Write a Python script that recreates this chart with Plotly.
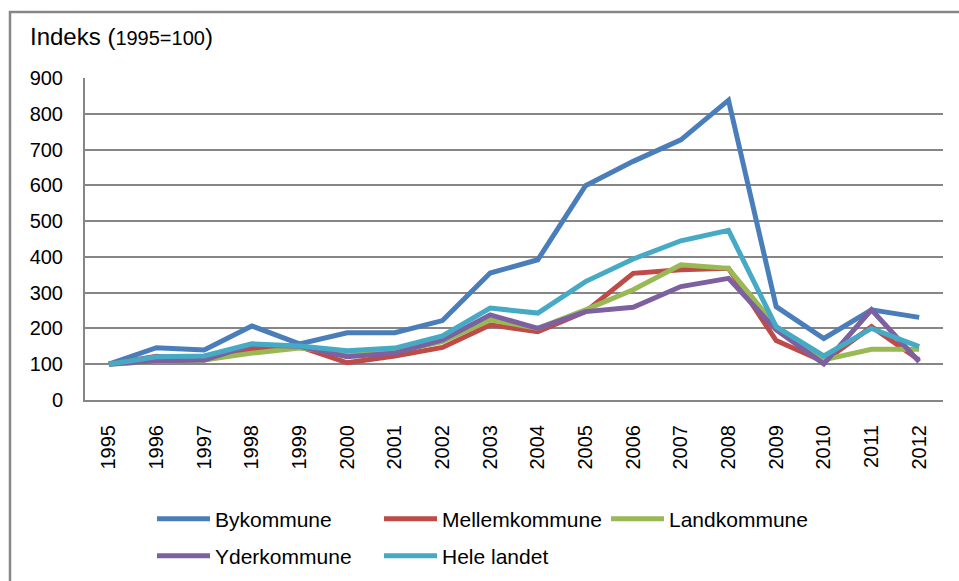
import plotly.graph_objects as go

years = [str(y) for y in range(1995, 2013)]
bykommune = [100, 146, 140, 207, 157, 188, 188, 222, 355, 392, 599, 667, 727, 838, 261, 172, 252, 231]
mellemkommune = [100, 122, 112, 142, 149, 104, 123, 147, 210, 191, 247, 354, 364, 368, 166, 107, 205, 112]
landkommune = [100, 108, 112, 131, 145, 131, 135, 163, 224, 200, 252, 308, 378, 368, 205, 112, 142, 142]
yderkommune = [100, 110, 112, 154, 150, 121, 131, 168, 238, 200, 247, 259, 317, 340, 196, 101, 252, 107]
hele_landet = [100, 121, 123, 157, 151, 138, 145, 179, 257, 243, 331, 394, 445, 474, 205, 123, 200, 149]

series_names = ["Bykommune", "Mellemkommune", "Landkommune", "Yderkommune", "Hele landet"]
series_values = [bykommune, mellemkommune, landkommune, yderkommune, hele_landet]
colors = ["#4A7EBB", "#BE4B48", "#98B954", "#7D60A0", "#46AAC5"]
legend_ids = ["legend", "legend", "legend", "legend2", "legend2"]

FONT = "Liberation Sans, Arial, sans-serif"
W, H = 959, 581
L, R, T, B = 85, 16, 78, 181

fig = go.Figure()
for name, vals, col, lg in zip(series_names, series_values, colors, legend_ids):
    fig.add_trace(go.Scatter(
        x=years, y=vals, name=name, mode="lines",
        line=dict(color=col, width=5),
        legend=lg,
    ))

plot_w = W - L - R
plot_h = H - T - B

def px_x(p):
    return (p - L) / plot_w

def px_y(p):
    return (H - B - p) / plot_h

legend_common = dict(
    orientation="h", xref="container", yref="container",
    x=152 / W, xanchor="left", yanchor="middle",
    entrywidth=159, entrywidthmode="pixels", itemwidth=53,
    font=dict(size=21), bgcolor="rgba(0,0,0,0)", borderwidth=0,
)

fig.update_layout(
    width=W, height=H,
    margin=dict(l=L, r=R, t=T, b=B, autoexpand=False),
    paper_bgcolor="white", plot_bgcolor="white",
    font=dict(family=FONT, size=21, color="black"),
    xaxis=dict(
        type="category", range=[-0.5, len(years) - 0.5],
        tickangle=-90, showgrid=False, automargin=False,
        showline=True, linecolor="#868686", linewidth=2,
        ticks="", ticklabelstandoff=15,
        tickfont=dict(size=20),
    ),
    yaxis=dict(
        range=[0, 900], dtick=100, tick0=0, automargin=False,
        showgrid=True, gridcolor="#868686", gridwidth=1.8,
        showline=True, linecolor="#868686", linewidth=2,
        zeroline=False, ticks="", ticklabelstandoff=16,
        tickfont=dict(size=20),
    ),
    legend=dict(legend_common, y=1 - 519 / H),
    legend2=dict(legend_common, y=1 - 556 / H),
    showlegend=True,
)

fig.add_annotation(
    xref="paper", yref="paper", x=px_x(28), y=px_y(36),
    xanchor="left", yanchor="middle", showarrow=False,
    text='Indeks (<span style="font-size:20px">1995=100</span>)',
    font=dict(family=FONT, size=24, color="black"),
)

fig.add_shape(
    type="rect", xref="paper", yref="paper",
    x0=px_x(10), x1=px_x(975), y0=px_y(600), y1=px_y(12),
    line=dict(color="#878787", width=2.5), fillcolor="rgba(0,0,0,0)",
    layer="below",
)

fig.write_html(
    "out.html",
    config={"displayModeBar": False},
    post_script="document.body.style.margin='0';document.body.style.padding='0';",
)
